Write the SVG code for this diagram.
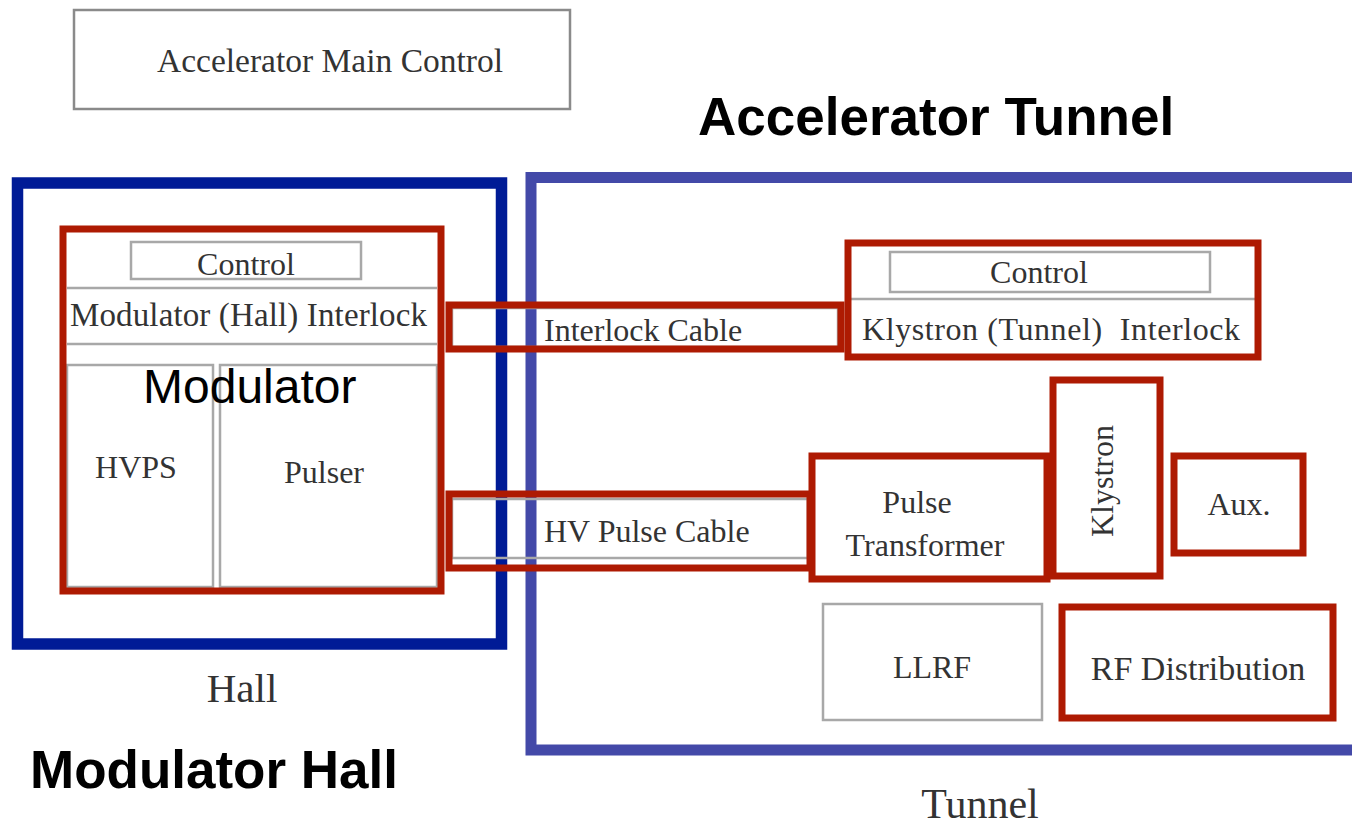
<svg xmlns="http://www.w3.org/2000/svg" width="1352" height="825" viewBox="0 0 1352 825">
<style>
.g{fill:none;stroke:#a8a8a8;stroke-width:2.5}
.r{fill:none;stroke:#ae1a02;stroke-width:7}
.t{font-family:"Liberation Serif","Times New Roman",serif;font-size:32px;fill:#333}
.c{text-anchor:middle}
.b{font-family:"Liberation Sans",Arial,sans-serif;font-weight:bold;font-size:53px;fill:#000}
</style>
<rect width="1352" height="825" fill="#fff"/>
<g id="main-control">
<rect x="74" y="10" width="496" height="99" fill="#fff" stroke="#8a8a8a" stroke-width="2.5"/>
<text class="t c" x="330" y="72" style="font-size:33.5px">Accelerator Main Control</text>
</g>
<text class="b" x="698" y="135">Accelerator Tunnel</text>
<text class="b" x="30" y="788">Modulator Hall</text>
<g id="hall">
<rect x="17.5" y="183" width="484" height="461" fill="none" stroke="#001b96" stroke-width="11.5"/>
<text class="t c" x="242" y="702" style="font-size:41px">Hall</text>
</g>
<g id="tunnel">
<rect x="531" y="177.5" width="900" height="572.5" fill="none" stroke="#4349a8" stroke-width="11"/>
<text class="t c" x="980" y="818" style="font-size:42px">Tunnel</text>
</g>
<g id="modulator">
<rect class="g" x="131" y="242" width="230" height="37"/>
<text class="t c" x="246" y="275">Control</text>
<line class="g" x1="67" y1="288" x2="437" y2="288"/>
<text class="t" x="70" y="326" textLength="357" style="font-size:33px">Modulator (Hall) Interlock</text>
<line class="g" x1="67" y1="344" x2="437" y2="344"/>
<rect class="g" x="67" y="365" width="146" height="222"/>
<rect class="g" x="220" y="365" width="217" height="222"/>
<text class="t c" x="136" y="478">HVPS</text>
<text class="t c" x="324" y="483">Pulser</text>
<rect class="r" x="63" y="229" width="378" height="362"/>
<text x="143" y="403" font-family="'Liberation Sans',Arial,sans-serif" font-size="48" fill="#000">Modulator</text>
</g>
<g id="connectors">
<g id="interlock-cable">
<rect class="g" x="452" y="308" width="386" height="39"/>
<text class="t" x="544" y="341">Interlock Cable</text>
<rect class="r" x="449" y="305" width="392" height="44"/>
</g>
<g id="hv-pulse-cable">
<rect class="g" x="452" y="499" width="356" height="59"/>
<text class="t" x="544" y="542">HV Pulse Cable</text>
<rect class="r" x="449" y="494" width="361" height="74"/>
</g>
</g>
<g id="klystron-interlock">
<rect class="g" x="890" y="252" width="320" height="40"/>
<text class="t c" x="1039" y="283">Control</text>
<line class="g" x1="850" y1="299" x2="1256" y2="299"/>
<text class="t" x="862" y="340" textLength="378" style="white-space:pre">Klystron (Tunnel)  Interlock</text>
<rect class="r" x="848" y="243" width="410" height="114"/>
</g>
<g id="pulse-transformer">
<rect class="r" x="812" y="456" width="235" height="123"/>
<text class="t c" x="917" y="513">Pulse</text>
<text class="t c" x="925" y="556">Transformer</text>
</g>
<g id="klystron">
<rect class="r" x="1053" y="380" width="107" height="196"/>
<text class="t c" transform="translate(1113 481) rotate(-90)">Klystron</text>
</g>
<g id="aux">
<rect class="r" x="1174" y="456" width="129" height="97"/>
<text class="t c" x="1239" y="515">Aux.</text>
</g>
<g id="llrf">
<rect class="g" x="823" y="604" width="219" height="116"/>
<text class="t c" x="932" y="678">LLRF</text>
</g>
<g id="rf-distribution">
<rect class="r" x="1062" y="607" width="271" height="111"/>
<text class="t c" x="1198" y="680" style="font-size:34px">RF Distribution</text>
</g>
</svg>
